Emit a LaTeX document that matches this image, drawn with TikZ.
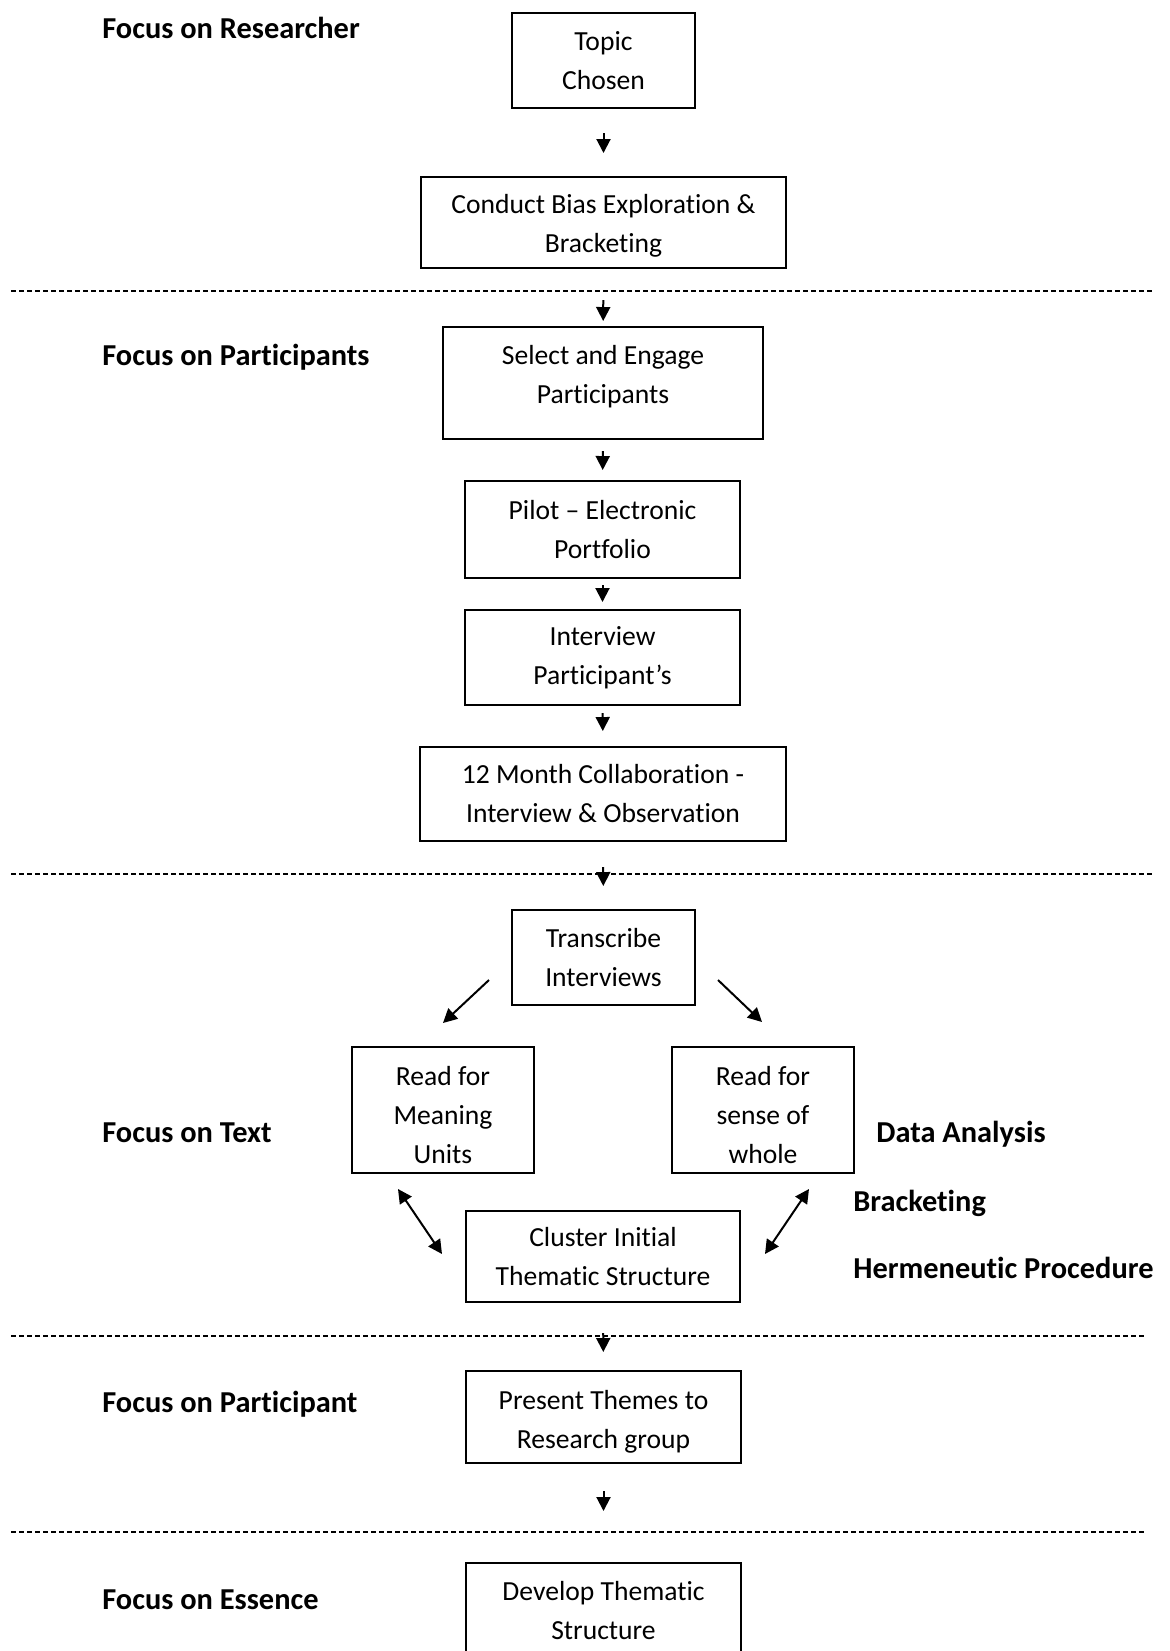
\documentclass[tikz,border=0pt]{standalone}
\usepackage{fontspec}
\setmainfont{Carlito}[Ligatures=NoCommon]
\usetikzlibrary{arrows.meta}
\begin{document}
\begin{tikzpicture}[>={Triangle[length=7pt,width=7pt]},x=0.5pt,y=-0.5pt,
	box/.style={draw,line width=1pt,align=center,inner sep=0pt,font=\fontsize{13.8}{19.5}\selectfont},
	lbl/.style={anchor=base west,inner sep=0pt,font=\fontsize{15.2}{18}\selectfont\bfseries},
	arr/.style={->,line width=1pt},
	darr/.style={<->,line width=1pt},
	sep/.style={line width=0.7pt,dash pattern=on 2.5pt off 1.5pt}]
		\useasboundingbox (0,0) rectangle (1170,1651);
		\draw[sep] (11,291) -- (1153,291);
		\draw[sep] (11,874) -- (1153,874);
		\draw[sep] (11,1336) -- (1145,1336);
		\draw[sep] (11,1532) -- (1145,1532);
		\node[lbl] (researcher) at (102,38) {Focus on Researcher};
		\node[lbl] (participants) at (102,365) {Focus on Participants};
		\node[lbl] (text) at (102,1142) {Focus on Text};
		\node[lbl] (participant) at (102,1412) {Focus on Participant};
		\node[lbl] (essence) at (102,1609) {Focus on Essence};
		\node[lbl] (analysis) at (876,1142) {Data Analysis};
		\node[lbl] (bracketing) at (853,1211) {Bracketing};
		\node[lbl] (hermeneutic) at (853,1278) {Hermeneutic Procedure};
		\node[box,minimum width=91.5pt,minimum height=47.5pt] (topic) at (603.5,60.5) {Topic\\Chosen};
		\node[box,minimum width=182.5pt,minimum height=45.5pt] (bias) at (603.5,222.5) {\rule{0pt}{12.9pt}Conduct Bias Exploration \&\\Bracketing};
		\node[box,minimum width=160pt,minimum height=56pt] (select) at (603,383) {Select and Engage\\Participants\rule[-8.2pt]{0pt}{0pt}};
		\node[box,minimum width=137.5pt,minimum height=48.5pt] (pilot) at (602.5,529.5) {Pilot – Electronic\\Portfolio};
		\node[box,minimum width=137.5pt,minimum height=47.5pt] (interview) at (602.5,657.5) {Interview\\Participant’s};
		\node[box,minimum width=183pt,minimum height=47pt] (month) at (603,794) {12 Month Collaboration -\\Interview \& Observation};
		\node[box,minimum width=91.5pt,minimum height=47.5pt] (transcribe) at (603.5,957.5) {Transcribe\\Interviews};
		\node[box,minimum width=91pt,minimum height=63pt] (meaning) at (443,1110) {\rule{0pt}{14.5pt}Read for\\Meaning\\Units};
		\node[box,minimum width=91pt,minimum height=63pt] (sense) at (763,1110) {\rule{0pt}{14.5pt}Read for\\sense of\\whole};
		\node[box,minimum width=137pt,minimum height=45.5pt] (cluster) at (603,1256.5) {Cluster Initial\\Thematic Structure};
		\node[box,minimum width=137.5pt,minimum height=46pt] (present) at (603.5,1417) {\rule{0pt}{13.9pt}Present Themes to\\Research group};
		\node[box,minimum width=137.5pt,minimum height=47.5pt] (develop) at (603.5,1610.5) {Develop Thematic\\Structure};
		\draw[arr,shorten <=12pt,shorten >=11.5pt] (topic) -- (bias);
		\draw[arr,shorten <=15.5pt,shorten >=2.5pt] (bias) -- (select);
		\draw[arr,shorten <=5.5pt,shorten >=5pt] (select) -- (pilot);
		\draw[arr,shorten <=3pt,shorten >=3.5pt] (pilot) -- (interview);
		\draw[arr,shorten <=3.5pt,shorten >=7.5pt] (interview) -- (month);
		\draw[arr,shorten <=12.5pt,shorten >=11.5pt] (month) -- (transcribe);
		\draw[arr] ([shift={(-22,-26)}]transcribe.south west) -- ([shift={(92,-23)}]meaning.north west);
		\draw[arr] ([shift={(22,-26)}]transcribe.south east) -- ([shift={(91,-24)}]sense.north west);
		\draw[darr] ([shift={(47,15)}]meaning.south west) -- ([shift={(-23,44)}]cluster.north west);
		\draw[darr] ([shift={(-46,15)}]sense.south east) -- ([shift={(24,44)}]cluster.north east);
		\draw[arr,shorten <=15pt,shorten >=9pt] (cluster) -- (present);
		\draw[arr,shorten <=13.5pt,shorten >=25.5pt] (present) -- (develop);
\end{tikzpicture}
\end{document}
